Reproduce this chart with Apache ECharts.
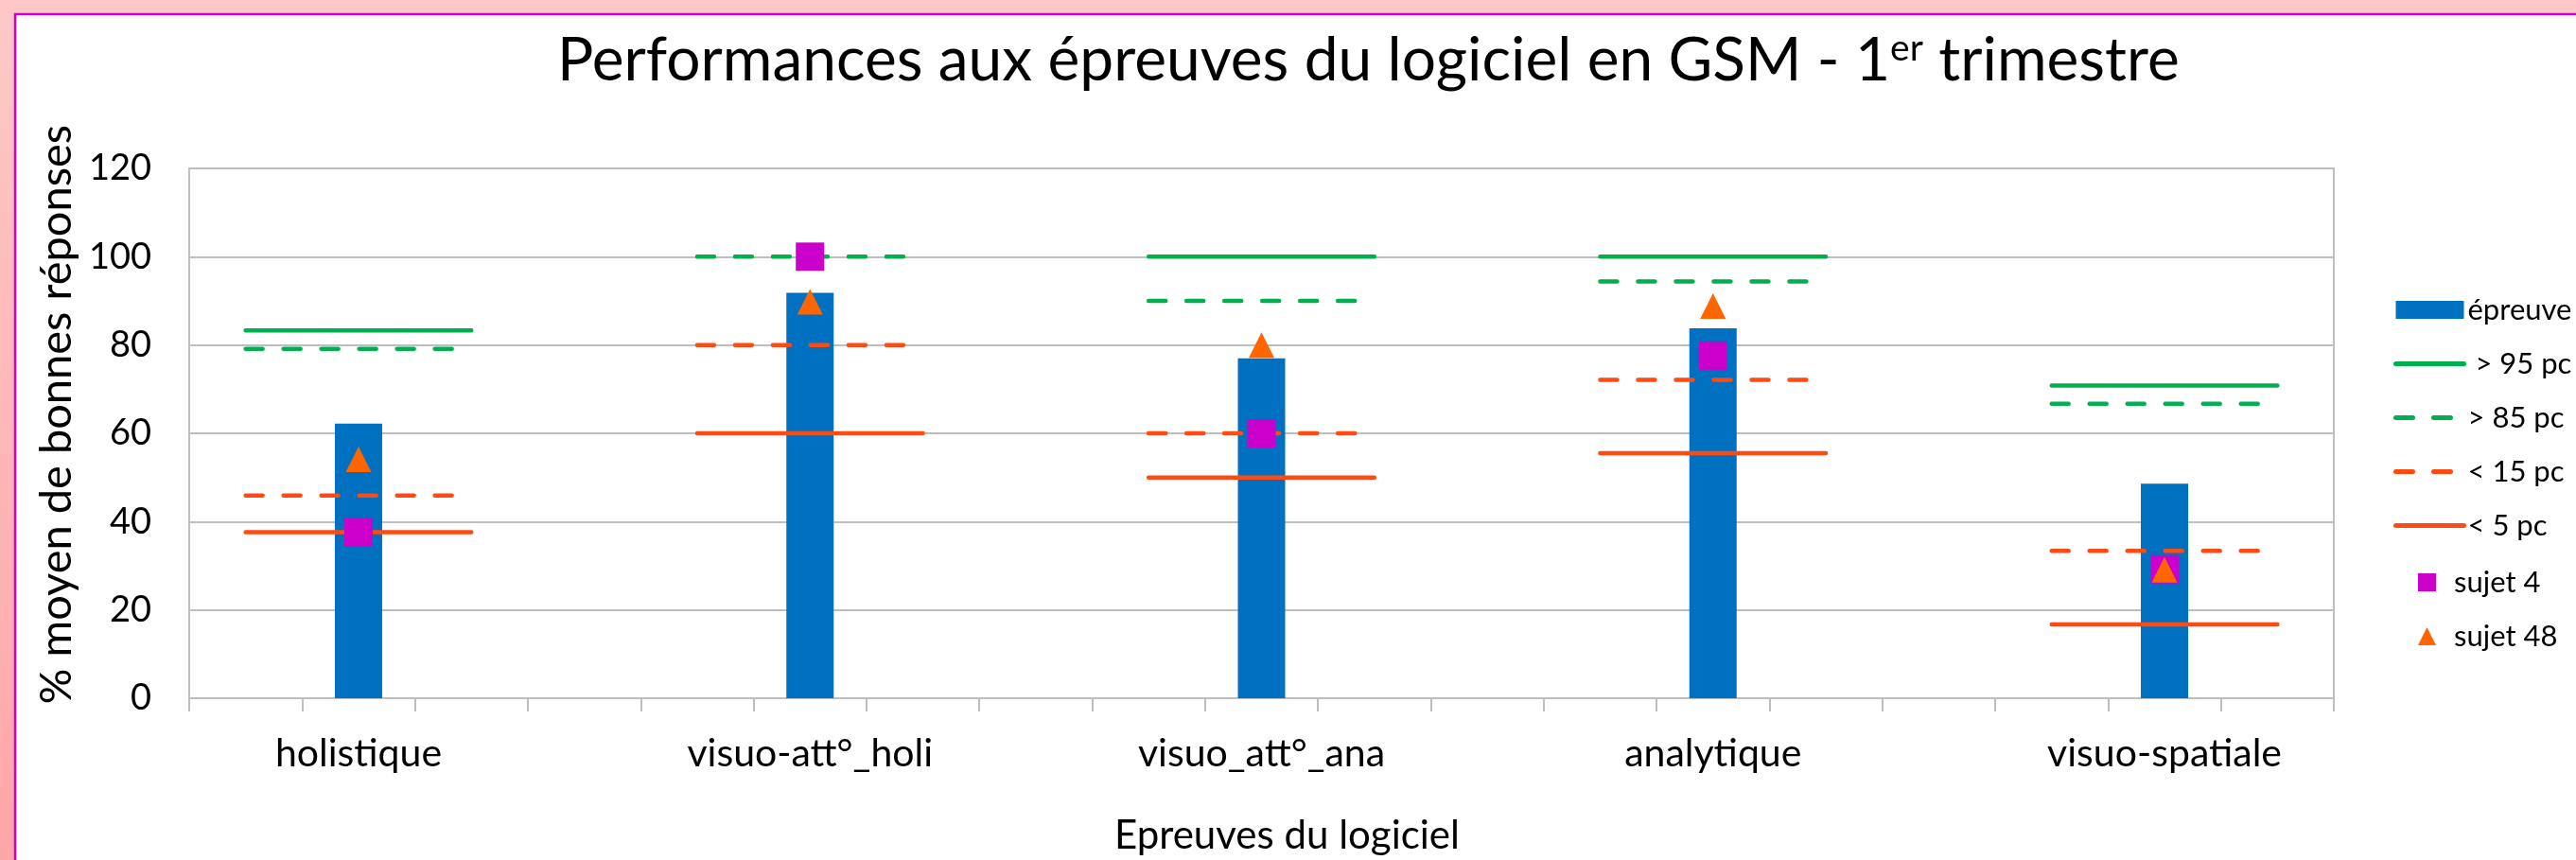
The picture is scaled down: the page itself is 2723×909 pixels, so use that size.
<!DOCTYPE html>
<html>
<head>
<meta charset="utf-8">
<title>Performances aux épreuves du logiciel en GSM</title>
<script src="https://cdn.jsdelivr.net/npm/echarts@6.0.0/dist/echarts.min.js"></script>
<style>
  html, body { margin: 0; padding: 0; }
  #chart { width: 2723px; height: 909px; }
</style>
</head>
<body>
<div id="chart"></div>
<script>
// épreuves (one label per group of 4 slots on the x axis)
var epreuves = ['holistique', 'visuo-att°_holi', 'visuo_att°_ana', 'analytique', 'visuo-spatiale'];

// % moyen de bonnes réponses
var epreuveValues = [62.2, 91.8, 77, 83.8, 48.6];
var pc95 = [83.3, null, 100, 100, 70.8];
var pc85 = [79.1, 100, 90, 94.4, 66.7];
var pc15 = [45.9, 80, 60, 72.1, 33.4];
var pc5 = [37.6, 60, 50, 55.5, 16.7];
var sujet4 = [37.6, 100, 60, 77.6, 29.2];
var sujet48 = [54.1, 89.8, 80, 88.8, 29.1];

var yTicks = [0, 20, 40, 60, 80, 100, 120];

var FONT = 'Lato, "Open Sans", sans-serif';
var GREEN = '#00B050';
var RED = '#FF4A12';
var SLOTS = epreuves.length * 4 - 1;

// x axis slots: labels sit on slot 4*i+1, reference lines span slots 4*i .. 4*i+2
var slotNames = [];
var slotLabels = [];
for (var s = 0; s < SLOTS; s++) {
  slotNames.push('s' + s);
  slotLabels.push(s % 4 === 1 ? epreuves[(s - 1) / 4] : '');
}

function spread(values) {
  var arr = [];
  for (var s = 0; s < SLOTS; s++) arr.push('-');
  values.forEach(function (v, i) {
    if (v == null) return;
    arr[4 * i] = v;
    arr[4 * i + 1] = v;
    arr[4 * i + 2] = v;
  });
  return arr;
}

function atCenter(values) {
  var arr = [];
  for (var s = 0; s < SLOTS; s++) arr.push('-');
  values.forEach(function (v, i) {
    if (v != null) arr[4 * i + 1] = v;
  });
  return arr;
}

var DASH = [18, 22];

function refLine(name, values, color, dashed) {
  return {
    name: name,
    type: 'line',
    data: spread(values),
    symbol: 'none',
    connectNulls: false,
    lineStyle: {
      color: color,
      width: 4.5,
      type: dashed ? DASH : 'solid',
      cap: 'round',
    },
    itemStyle: { color: color },
  };
}

// legend entry for a reference line: line only, hide the symbol
function lineLegend(name, color, dashed) {
  return {
    name: name,
    itemStyle: { opacity: 0 },
    lineStyle: { color: color, width: 5, type: dashed ? DASH : 'solid', cap: 'round' },
  };
}

var chart = echarts.init(document.getElementById('chart'));

var option = {
  backgroundColor: {
    type: 'linear', x: 0, y: 0, x2: 0, y2: 1,
    colorStops: [
      { offset: 0, color: '#FFC8C8' },
      { offset: 1, color: '#FFA6A8' },
    ],
  },
  graphic: [
    {
      type: 'rect',
      z: -10,
      shape: { x: 16, y: 15, width: 2760, height: 960 },
      style: { fill: '#FFFFFF', stroke: '#CC00CC', lineWidth: 2.5 },
    },
  ],
  title: {
    text: 'Performances aux épreuves du logiciel en GSM - 1{sup|er} trimestre',
    left: 584,
    top: 27,
    textStyle: {
      fontFamily: FONT,
      fontSize: 64,
      fontWeight: 'normal',
      color: '#000',
      rich: {
        sup: { fontFamily: FONT, fontSize: 39, verticalAlign: 'top', color: '#000' },
      },
    },
  },
  legend: [
    {
      orient: 'vertical',
      left: 2525,
      top: 307,
      itemWidth: 72,
      itemHeight: 19,
      itemGap: 26,
      textStyle: { fontFamily: FONT, fontSize: 31, color: '#000', padding: [0, 0, 0, -1] },
      data: [
        { name: 'épreuve', icon: 'rect' },
        lineLegend(' > 95 pc', GREEN, false),
        lineLegend('> 85 pc', GREEN, true),
        lineLegend('< 15 pc', RED, true),
        lineLegend('< 5 pc', RED, false),
      ],
    },
    {
      orient: 'vertical',
      left: 2551,
      top: 595,
      itemWidth: 19,
      itemHeight: 19,
      itemGap: 26,
      textStyle: { fontFamily: FONT, fontSize: 31, color: '#000', padding: [0, 0, 0, 14] },
      data: [
        { name: 'sujet 4', icon: 'rect' },
        { name: 'sujet 48', icon: 'triangle' },
      ],
    },
  ],
  grid: {
    left: 200,
    right: 256,
    top: 178,
    bottom: 171,
    outerBoundsMode: 'none',
    containLabel: false,
    show: true,
    borderColor: '#BEBEBE',
    borderWidth: 2,
    backgroundColor: 'transparent',
  },
  xAxis: {
    type: 'category',
    data: slotNames,
    boundaryGap: true,
    name: 'Epreuves du logiciel',
    nameLocation: 'middle',
    nameGap: 124,
    nameTextStyle: { fontFamily: FONT, fontSize: 42, color: '#000', padding: [0, 0, 0, 54] },
    axisLine: { lineStyle: { color: '#BEBEBE', width: 2 } },
    axisTick: { show: true, interval: 0, length: 14, lineStyle: { color: '#BEBEBE', width: 2 } },
    axisLabel: {
      interval: 0,
      margin: 38,
      fontFamily: FONT,
      fontSize: 41,
      color: '#000',
      formatter: function (v, i) { return slotLabels[i]; },
    },
    splitLine: { show: false },
  },
  yAxis: {
    type: 'value',
    min: yTicks[0],
    max: yTicks[yTicks.length - 1],
    interval: 20,
    name: '% moyen de bonnes réponses',
    nameLocation: 'middle',
    nameGap: 94,
    nameTextStyle: { fontFamily: FONT, fontSize: 47, color: '#000', padding: [0, 0, 0, 40] },
    axisLine: { show: true, lineStyle: { color: '#BEBEBE', width: 2 } },
    axisTick: { show: false },
    axisLabel: { margin: 40, fontFamily: FONT, fontSize: 38, color: '#000' },
    splitLine: { lineStyle: { color: '#BEBEBE', width: 2 } },
  },
  series: [
    {
      name: 'épreuve',
      type: 'bar',
      data: atCenter(epreuveValues),
      barWidth: 50,
      itemStyle: { color: '#0070C0' },
    },
    refLine(' > 95 pc', pc95, GREEN, false),
    refLine('> 85 pc', pc85, GREEN, true),
    refLine('< 15 pc', pc15, RED, true),
    refLine('< 5 pc', pc5, RED, false),
    {
      name: 'sujet 4',
      type: 'scatter',
      data: atCenter(sujet4),
      symbol: 'rect',
      symbolSize: 30,
      itemStyle: { color: '#CC00CC', opacity: 1 },
      z: 3,
    },
    {
      name: 'sujet 48',
      type: 'scatter',
      data: atCenter(sujet48),
      symbol: 'triangle',
      symbolSize: 27,
      itemStyle: { color: '#FF6600', opacity: 1 },
      z: 4,
    },
  ],
};

chart.setOption(option);
</script>
</body>
</html>
